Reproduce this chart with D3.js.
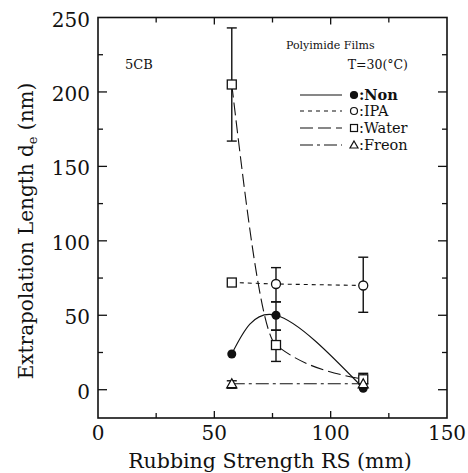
<!DOCTYPE html>
<html><head><meta charset="utf-8">
<script src="https://cdn.jsdelivr.net/npm/d3@7"></script>
<style>body{margin:0;background:#fff}svg{display:block}</style>
</head><body><svg id="c" width="468" height="473"></svg>
<script>
// data
const xTicks = [0, 50, 100, 150];
const yTicks = [0, 50, 100, 150, 200, 250];
const nonX = [57.5, 76.5, 114];
const nonY = [24, 50, 1];
const ipaX = [57.5, 76.5, 114];
const ipaY = [72, 71, 70];
const ipaMarkers = ["square", "circle", "circle"];
const ipaErr = [null, [59, 82], [52, 89]];
const nonErr = [null, [40, 59], null];
const waterX = [57.5, 76.5, 114];
const waterY = [205, 30, 7];
const waterErr = [[167, 243], [19, 40], [4, 11]];
const freonX = [57.5, 114];
const freonY = [4, 4];
const freonErr = [[1, 6], null];
const legendLabels = [":Non", ":IPA", ":Water", ":Freon"];

const FONT = "DejaVu Serif";
const svg = d3.select("#c");
const x = d3.scaleLinear().domain([0, 150]).range([98, 447]);
const y = d3.scaleLinear().domain([-19, 250]).range([418, 17.5]);
const ink = "#111";
function txt(px, py, s, size) {
  return svg.append("text").attr("x", px).attr("y", py).style("font-family", FONT)
    .style("font-size", size + "px").attr("fill", ink).text(s);
}

// frame
svg.append("rect").attr("x", 98).attr("y", 17.5).attr("width", 349).attr("height", 400.5)
  .attr("fill", "none").attr("stroke", ink).attr("stroke-width", 1.6);

// ticks (inward, all sides)
const xMinor = d3.range(25, 150, 50);
const yMinor = d3.range(25, 250, 50);
function tickLines(g, scale, vals, len, side) {
  vals.forEach(v => {
    const p = scale(v);
    if (side === "bottom") g.append("line").attr("x1", p).attr("x2", p).attr("y1", 418).attr("y2", 418 - len);
    if (side === "top") g.append("line").attr("x1", p).attr("x2", p).attr("y1", 17.5).attr("y2", 17.5 + len);
    if (side === "left") g.append("line").attr("y1", p).attr("y2", p).attr("x1", 98).attr("x2", 98 + len);
    if (side === "right") g.append("line").attr("y1", p).attr("y2", p).attr("x1", 447).attr("x2", 447 - len);
  });
}
const tg = svg.append("g").attr("stroke", ink).attr("stroke-width", 1.3);
tickLines(tg, x, xTicks.slice(1, -1), 7, "bottom");
tickLines(tg, x, xMinor, 5, "bottom");
tickLines(tg, x, xTicks.slice(1, -1), 7, "top");
tickLines(tg, x, xMinor, 5, "top");
tickLines(tg, y, yTicks.slice(0, -1), 9, "left");
tickLines(tg, y, yMinor, 5, "left");
tickLines(tg, y, yTicks.slice(0, -1), 9, "right");
tickLines(tg, y, yMinor, 5, "right");

// tick labels
xTicks.forEach(d => txt(x(d), 440, d, 20).attr("text-anchor", "middle"));
yTicks.forEach(d => txt(90, y(d) + 9, d, 20).attr("text-anchor", "end"));

// axis titles
txt(270, 468, "Rubbing Strength RS (mm)", 20.5).attr("text-anchor", "middle");
const yl = svg.append("text").attr("transform", "translate(33,231) rotate(-90)")
  .attr("text-anchor", "middle").style("font-family", FONT).style("font-size", "20px").attr("fill", ink);
yl.append("tspan").text("Extrapolation Length d");
yl.append("tspan").attr("dy", 4).style("font-size", "13px").text("e");
yl.append("tspan").attr("dy", -4).text(" (nm)");

// annotations
txt(125, 69, "5CB", 13);
txt(286, 49, "Polyimide Films", 11);
txt(408, 69, "T=30(°C)", 12.5).attr("text-anchor", "end");

// series lines
const dashes = { non: null, ipa: "4,4", water: "13,5", freon: "13,4,3,4" };
function pts(xs, ys) { return xs.map((d, i) => [d, ys[i]]); }
const lineGen = c => d3.line().x(d => x(d[0])).y(d => y(d[1])).curve(c);
const plot = svg.append("g").attr("fill", "none").attr("stroke", ink).attr("stroke-width", 1.1);
plot.append("path").attr("d", lineGen(d3.curveNatural)(pts(nonX, nonY)));
plot.append("path").attr("d", lineGen(d3.curveLinear)(pts(ipaX, ipaY))).attr("stroke-dasharray", dashes.ipa);
plot.append("path").attr("d", lineGen(d3.curveMonotoneX)(pts(waterX, waterY))).attr("stroke-dasharray", dashes.water);
plot.append("path").attr("d", lineGen(d3.curveLinear)(pts(freonX, freonY))).attr("stroke-dasharray", dashes.freon);

// error bars
function errBars(xs, errs) {
  xs.forEach((xv, i) => {
    const e = errs[i]; if (!e) return;
    const g = svg.append("g").attr("stroke", ink).attr("stroke-width", 1.4);
    g.append("line").attr("x1", x(xv)).attr("x2", x(xv)).attr("y1", y(e[0])).attr("y2", y(e[1]));
    e.forEach(v => g.append("line").attr("x1", x(xv) - 5).attr("x2", x(xv) + 5).attr("y1", y(v)).attr("y2", y(v)));
  });
}
errBars(waterX, waterErr);
errBars(ipaX, ipaErr);
errBars(nonX, nonErr);
errBars(freonX, freonErr);

// markers
function marker(g, type, cx, cy) {
  if (type === "circle") g.append("circle").attr("cx", cx).attr("cy", cy).attr("r", 4.5).attr("fill", "#fff").attr("stroke", ink).attr("stroke-width", 1.3);
  if (type === "filled") g.append("circle").attr("cx", cx).attr("cy", cy).attr("r", 4.5).attr("fill", ink);
  if (type === "square") g.append("rect").attr("x", cx - 4.5).attr("y", cy - 4.5).attr("width", 9).attr("height", 9).attr("fill", "#fff").attr("stroke", ink).attr("stroke-width", 1.3);
  if (type === "triangle") g.append("path").attr("d", `M${cx},${cy - 5}L${cx + 5},${cy + 4}L${cx - 5},${cy + 4}Z`).attr("fill", "#fff").attr("stroke", ink).attr("stroke-width", 1.3);
}
const mg = svg.append("g");
nonX.forEach((d, i) => marker(mg, "filled", x(d), y(nonY[i])));
waterX.forEach((d, i) => marker(mg, "square", x(d), y(waterY[i])));
ipaX.forEach((d, i) => marker(mg, ipaMarkers[i], x(d), y(ipaY[i])));
freonX.forEach((d, i) => marker(mg, "triangle", x(d), y(freonY[i])));

// legend
const legTypes = ["filled", "circle", "square", "triangle"];
const legDash = [dashes.non, dashes.ipa, dashes.water, dashes.freon];
const legY = [95, 111, 128, 145];
legendLabels.forEach((t, i) => {
  const ly = legY[i];
  const l = svg.append("line").attr("x1", 300).attr("x2", 342).attr("y1", ly).attr("y2", ly)
    .attr("stroke", ink).attr("stroke-width", 1.1);
  if (legDash[i]) l.attr("stroke-dasharray", legDash[i]);
  const lg = svg.append("g");
  if (legTypes[i] === "circle" || legTypes[i] === "filled") {
    lg.append("circle").attr("cx", 354).attr("cy", ly).attr("r", 3.5)
      .attr("fill", legTypes[i] === "filled" ? ink : "#fff").attr("stroke", ink).attr("stroke-width", 1.2);
  } else if (legTypes[i] === "square") {
    lg.append("rect").attr("x", 350.5).attr("y", ly - 3.5).attr("width", 7).attr("height", 7).attr("fill", "#fff").attr("stroke", ink).attr("stroke-width", 1.2);
  } else {
    lg.append("path").attr("d", `M354,${ly - 4}L358,${ly + 3}L350,${ly + 3}Z`).attr("fill", "#fff").attr("stroke", ink).attr("stroke-width", 1.2);
  }
  txt(359, ly + 5, t, 14.5).style("font-weight", i === 0 ? "bold" : "normal");
});
</script></body></html>
